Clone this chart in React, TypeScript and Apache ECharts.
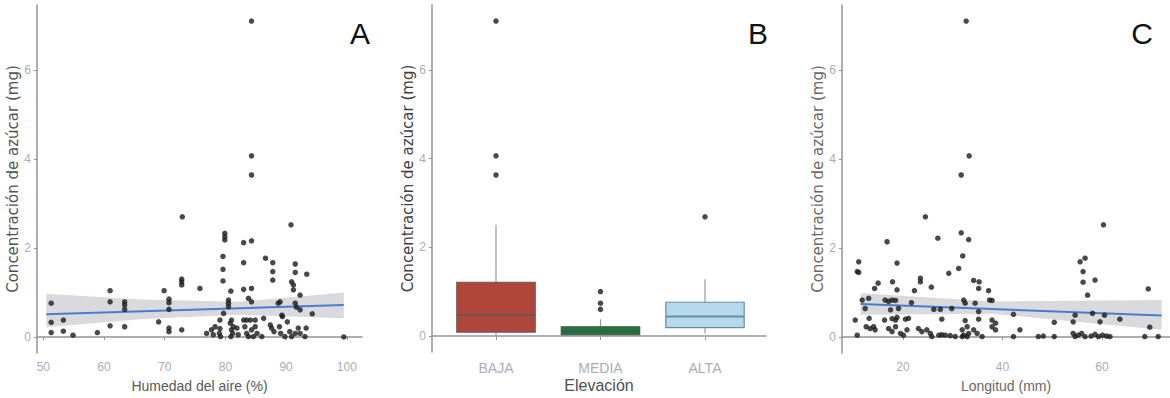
import React, { useEffect, useRef } from "react";
import * as echarts from "echarts";

// Panel A: Humedad del aire (%) vs concentración
const humedadX = [
  51.3, 51.3, 51.3, 53.3, 53.3, 54.9, 58.9, 61.0, 61.0, 61.0, 63.4, 63.4, 63.4, 63.4, 69.0, 69.9, 70.7, 70.7, 70.7, 70.7, 70.7,
  72.8, 72.8, 72.8, 72.8, 72.9, 75.8,
  79.9, 79.9, 79.9, 79.6, 79.6, 79.6, 80.9, 80.5, 80.5, 80.5, 79.7, 83.0, 84.3, 83.0, 83.0, 84.3, 83.8, 84.3, 86.6, 87.8, 87.8,
  87.8, 90.8, 91.5, 91.5, 90.9, 91.2, 91.2, 93.4, 92.3, 89.0, 88.7, 91.5, 91.7, 92.3, 94.3, 99.5, 89.3, 84.3, 84.3, 84.3,
  76.9, 77.7, 78.0, 78.3, 79.0, 79.1, 79.1, 79.2, 80.8, 81.0, 81.0, 81.2, 81.3, 80.9, 81.9, 82.1, 83.0, 83.5, 83.2, 83.5,
  83.8, 84.1, 84.3, 84.6, 84.9, 84.9, 85.2, 86.0, 86.3, 87.4, 87.6, 88.0, 88.9, 89.1, 89.4, 89.8, 90.2, 90.6, 90.9, 91.5,
  92.0, 92.3, 93.1, 93.3,
];
const humedadY = [
  0.76, 0.33, 0.10, 0.38, 0.13, 0.04, 0.10, 1.04, 0.79, 0.25, 0.79, 0.72, 0.62, 0.23, 0.34, 1.04, 0.85, 0.77, 0.62, 0.20, 0.12,
  0.16, 1.30, 1.24, 1.17, 2.70, 1.09,
  2.33, 2.25, 2.18, 1.81, 1.52, 1.26, 1.03, 0.83, 0.76, 0.68, 0.53, 2.12, 2.16, 1.67, 1.07, 1.09, 0.87, 0.79, 1.77, 1.67, 1.47,
  1.28, 2.52, 1.64, 1.45, 1.24, 1.17, 1.06, 1.41, 0.94, 0.79, 0.76, 0.76, 0.67, 0.61, 0.52, 0.00, 0.49, 7.10, 4.07, 3.64,
  0.08, 0.16, 0.05, 0.23, 0.08, 0.38, 0.19, 0.01, 0.31, 0.38, 0.16, 0.08, 0.23, 0.01, 0.20, 0.05, 0.38, 0.38, 0.23, 0.08,
  0.01, 0.38, 0.16, 0.01, 0.38, 0.23, 0.08, 0.01, 0.42, 0.27, 0.20, 0.12, 0.23, 0.08, 0.46, 0.01, 0.34, 0.12, 0.01, 0.08,
  0.20, 0.08, 0.01, 0.20,
];
const humedadFitX = [50.5, 99.5];
const humedadFitY = [0.51, 0.72];
const humedadBandX = [50.5, 66, 82, 99.5];
const humedadBandLow = [0.22, 0.4, 0.5, 0.42];
const humedadBandHigh = [0.97, 0.84, 0.79, 1.0];

// Panel B: Elevación boxplots  [min, Q1, mediana, Q3, max]
const elevacionCats = ["BAJA", "MEDIA", "ALTA"];
const elevacionBoxes = [
  [0.0, 0.11, 0.5, 1.23, 2.52],
  [0.01, 0.05, 0.12, 0.23, 0.4],
  [0.08, 0.21, 0.46, 0.78, 1.3],
];
const elevacionFill = ["#b0453b", "#1c7a3d", "#b4daf0"];
const elevacionBorder = ["#6f5350", "#3d5c47", "#6f8a9c"];
const outlierCat = [0, 0, 0, 1, 1, 1, 2];
const outlierY = [7.1, 4.07, 3.64, 1.02, 0.76, 0.62, 2.7];

// Panel C: Longitud (mm) vs concentración
const longitudX = [
  11.1, 10.8, 11.1, 16.8, 18.8, 27.0, 31.7, 33.2, 32.0, 31.2, 29.2, 15.0, 14.3, 17.9, 18.8, 22.3, 23.5, 23.5, 25.7, 34.2,
  35.3, 35.2, 37.2, 11.8, 13.1, 12.4, 16.4, 17.1, 17.8, 18.5, 17.5, 19.1, 21.7, 26.2, 27.5, 29.8, 32.2, 32.5, 34.5, 35.2,
  37.4, 37.9, 10.4, 13.2, 16.3, 17.8, 18.5, 18.8, 20.5, 21.1, 27.8, 32.5, 35.2, 37.9, 38.6, 10.8, 12.6, 13.4, 14.4, 14.1,
  17.1, 17.8, 18.5, 19.5, 20.1, 20.8, 23.1, 23.8, 24.8, 25.5, 25.8, 27.2, 27.8, 28.5, 29.5, 30.5, 31.9, 32.2, 32.9, 33.2,
  31.9, 32.9, 34.2, 34.9, 35.9, 37.9, 38.6, 32.7, 33.3, 31.7, 24.5,
  60.3, 55.6, 56.6, 56.2, 56.2, 58.6, 57.1, 69.3, 42.2, 54.6, 58.1, 60.5, 63.6, 50.4, 54.2, 59.6, 69.6, 43.5, 42.2, 47.2,
  48.2, 50.4, 54.2, 54.6, 55.2, 55.9, 56.6, 57.8, 58.6, 59.3, 60.1, 60.9, 61.6, 68.6, 71.3,
];
const longitudY = [
  1.69, 1.47, 1.45, 2.14, 1.66, 2.22, 2.34, 2.19, 1.82, 1.54, 1.43, 1.21, 1.09, 1.24, 1.06, 1.04, 1.32, 1.24, 1.12, 1.27,
  1.24, 1.09, 1.04, 0.83, 0.87, 0.64, 0.83, 0.8, 0.83, 0.82, 0.61, 0.64, 0.77, 0.62, 0.62, 0.64, 0.83, 0.76, 0.76, 0.57,
  0.83, 0.82, 0.38, 0.42, 0.38, 0.41, 0.38, 0.44, 0.4, 0.42, 0.4, 0.37, 0.4, 0.38, 0.31, 0.04, 0.23, 0.19, 0.16, 0.23,
  0.19, 0.12, 0.23, 0.08, 0.04, 0.16, 0.19, 0.12, 0.16, 0.08, 0.01, 0.04, 0.05, 0.04, 0.03, 0.01, 0.16, 0.04, 0.23, 0.08,
  0.01, 0.01, 0.16, 0.08, 0.01, 0.23, 0.16, 7.1, 4.07, 3.64, 2.7,
  2.52, 1.69, 1.77, 1.47, 1.23, 1.28, 0.94, 1.08, 0.51, 0.49, 0.53, 0.49, 0.4, 0.33, 0.34, 0.34, 0.22, 0.16, 0.01, 0.01,
  0.02, 0.01, 0.08, 0.01, 0.04, 0.08, 0.01, 0.02, 0.06, 0.01, 0.04, 0.02, 0.01, 0.01, 0.01,
];
const longitudFitX = [11.5, 72];
const longitudFitY = [0.74, 0.48];
const longitudBandX = [11.5, 38, 72];
const longitudBandLow = [0.5, 0.52, 0.16];
const longitudBandHigh = [0.98, 0.8, 0.83];

const yTicks = [0, 2, 4, 6];
const humedadTicks = [50, 60, 70, 80, 90, 100];
const longitudTicks = [20, 40, 60];

const Y_TITLE = "Concentración de azúcar (mg)";

const AXIS_COLOR = "#8f949d";
const LABEL_COLOR = "#a8adb7";
const NARROW = "'Liberation Sans Narrow', 'Arial Narrow', 'Liberation Sans', sans-serif";
const SANS = "'Liberation Sans', Arial, sans-serif";

function yAxisCfg(gridIndex: number, show: boolean, nameColor: string) {
  return {
    type: "value",
    gridIndex,
    min: -0.36,
    max: 7.46,
    show,
    name: Y_TITLE,
    nameLocation: "middle",
    nameGap: 11,
    nameRotate: 90,
    nameTextStyle: { color: nameColor, fontSize: 15, fontFamily: "'DejaVu Sans', sans-serif" },
    axisLine: { show: true, lineStyle: { color: AXIS_COLOR, width: 1.5 } },
    axisTick: { show: true, length: 3, customValues: yTicks, lineStyle: { color: AXIS_COLOR } },
    axisLabel: { customValues: yTicks, color: LABEL_COLOR, fontSize: 12, margin: 6, fontFamily: NARROW },
    splitLine: { show: false },
  };
}

function bandSeries(xAxisIndex: number, xs: number[], lo: number[], hi: number[]) {
  return {
    type: "custom",
    xAxisIndex,
    yAxisIndex: xAxisIndex,
    silent: true,
    z: 1,
    data: [[xs[0], lo[0]]],
    renderItem: (_params: any, api: any) => {
      const top = xs.map((x, i) => api.coord([x, hi[i]]));
      const bot = xs.map((x, i) => api.coord([x, lo[i]])).reverse();
      return {
        type: "polygon",
        shape: { points: top.concat(bot) },
        style: { fill: "#d5d6da", opacity: 0.9 },
      };
    },
  };
}

export default function App() {
  const ref = useRef<HTMLDivElement>(null);

  useEffect(() => {
    const chart = echarts.init(ref.current!, null, { renderer: "svg" });
    const scatterStyle = { color: "#1c1c1c" };
    const option: any = {
      animation: false,
      backgroundColor: "#ffffff",
      grid: [
        { left: 37, top: 5, width: 325, height: 348 },
        { left: 432, top: 5, width: 334, height: 348 },
        { left: 443.75, top: 5, width: 313.5, height: 348 },
        { left: 842, top: 5, width: 328, height: 348 },
      ],
      xAxis: [
        {
          type: "value",
          gridIndex: 0,
          min: 48.96,
          max: 102.5,
          name: "Humedad del aire (%)",
          nameLocation: "middle",
          nameGap: 26,
          nameTextStyle: { color: "#5a5a5a", fontSize: 14, fontFamily: NARROW },
          axisLine: { lineStyle: { color: AXIS_COLOR, width: 1.5 } },
          axisTick: { length: 3, customValues: humedadTicks, lineStyle: { color: AXIS_COLOR } },
          axisLabel: { customValues: humedadTicks, color: LABEL_COLOR, fontSize: 12, margin: 8, fontFamily: NARROW },
          splitLine: { show: false },
        },
        {
          type: "value",
          gridIndex: 1,
          min: 0,
          max: 1,
          name: "Elevación",
          nameLocation: "middle",
          nameGap: 25,
          nameTextStyle: { color: "#4f4f4f", fontSize: 16, fontFamily: SANS },
          axisLine: { lineStyle: { color: AXIS_COLOR, width: 1.5 } },
          axisTick: { show: false },
          axisLabel: { show: false },
          splitLine: { show: false },
        },
        {
          type: "category",
          gridIndex: 2,
          data: elevacionCats,
          boundaryGap: true,
          axisLine: { show: false },
          axisTick: { show: true, alignWithLabel: true, length: 3, lineStyle: { color: AXIS_COLOR } },
          axisLabel: { color: LABEL_COLOR, fontSize: 14, margin: 8, fontFamily: SANS },
          splitLine: { show: false },
        },
        {
          type: "value",
          gridIndex: 3,
          min: 7.74,
          max: 73.67,
          name: "Longitud (mm)",
          nameLocation: "middle",
          nameGap: 26,
          nameTextStyle: { color: "#6a6a6a", fontSize: 14, fontFamily: NARROW },
          axisLine: { lineStyle: { color: AXIS_COLOR, width: 1.5 } },
          axisTick: { length: 3, customValues: longitudTicks, lineStyle: { color: AXIS_COLOR } },
          axisLabel: { customValues: longitudTicks, color: LABEL_COLOR, fontSize: 12, margin: 8, fontFamily: NARROW },
          splitLine: { show: false },
        },
      ],
      yAxis: [
        yAxisCfg(0, true, "#555555"),
        yAxisCfg(1, true, "#3f3f3f"),
        yAxisCfg(2, false, "#3f3f3f"),
        yAxisCfg(3, true, "#6a6a6a"),
      ],
      series: [
        bandSeries(0, humedadBandX, humedadBandLow, humedadBandHigh),
        {
          type: "line",
          xAxisIndex: 0,
          yAxisIndex: 0,
          data: humedadFitX.map((x, i) => [x, humedadFitY[i]]),
          symbol: "none",
          lineStyle: { color: "#4a7ccc", width: 2 },
          z: 2,
        },
        {
          type: "scatter",
          xAxisIndex: 0,
          yAxisIndex: 0,
          data: humedadX.map((x, i) => [x, humedadY[i]]),
          symbolSize: 5.5,
          itemStyle: scatterStyle,
          z: 3,
        },
        {
          type: "custom",
          xAxisIndex: 2,
          yAxisIndex: 2,
          z: 2,
          data: elevacionBoxes.map((b, i) => [i, ...b]),
          renderItem: (params: any, api: any) => {
            const i = params.dataIndex;
            const cat = api.value(0);
            const pMin = api.coord([cat, api.value(1)]);
            const pQ1 = api.coord([cat, api.value(2)]);
            const pMed = api.coord([cat, api.value(3)]);
            const pQ3 = api.coord([cat, api.value(4)]);
            const pMax = api.coord([cat, api.value(5)]);
            const w = api.size([1, 0])[0] * 0.75;
            const cx = pMed[0];
            const whisker = { stroke: "#9a9a9a", lineWidth: 1.2 };
            return {
              type: "group",
              children: [
                { type: "line", shape: { x1: cx, y1: pMin[1], x2: cx, y2: pQ1[1] }, style: whisker },
                { type: "line", shape: { x1: cx, y1: pQ3[1], x2: cx, y2: pMax[1] }, style: whisker },
                {
                  type: "rect",
                  shape: { x: cx - w / 2, y: pQ3[1], width: w, height: pQ1[1] - pQ3[1] },
                  style: { fill: elevacionFill[i], stroke: elevacionBorder[i], lineWidth: 1.2 },
                },
                {
                  type: "line",
                  shape: { x1: cx - w / 2, y1: pMed[1], x2: cx + w / 2, y2: pMed[1] },
                  style: { stroke: elevacionBorder[i], lineWidth: 2.2 },
                },
              ],
            };
          },
        },
        {
          type: "scatter",
          xAxisIndex: 2,
          yAxisIndex: 2,
          data: outlierCat.map((c, i) => [c, outlierY[i]]),
          symbolSize: 5.5,
          itemStyle: scatterStyle,
          z: 3,
        },
        bandSeries(3, longitudBandX, longitudBandLow, longitudBandHigh),
        {
          type: "line",
          xAxisIndex: 3,
          yAxisIndex: 3,
          data: longitudFitX.map((x, i) => [x, longitudFitY[i]]),
          symbol: "none",
          lineStyle: { color: "#4a7ccc", width: 2 },
          z: 2,
        },
        {
          type: "scatter",
          xAxisIndex: 3,
          yAxisIndex: 3,
          data: longitudX.map((x, i) => [x, longitudY[i]]),
          symbolSize: 5.5,
          itemStyle: scatterStyle,
          z: 3,
        },
      ],
      graphic: [
        { type: "text", x: 360, y: 33, style: { text: "A", fontSize: 30, fontFamily: SANS, fill: "#111", align: "center", verticalAlign: "middle" } },
        { type: "text", x: 758, y: 33, style: { text: "B", fontSize: 30, fontFamily: SANS, fill: "#111", align: "center", verticalAlign: "middle" } },
        { type: "text", x: 1142, y: 33, style: { text: "C", fontSize: 30, fontFamily: SANS, fill: "#111", align: "center", verticalAlign: "middle" } },
      ],
    };
    chart.setOption(option);
    return () => chart.dispose();
  }, []);

  return (
    <div
      ref={ref}
      style={{ position: "absolute", left: 0, top: 0, width: 1170, height: 398, background: "#ffffff" }}
    />
  );
}
